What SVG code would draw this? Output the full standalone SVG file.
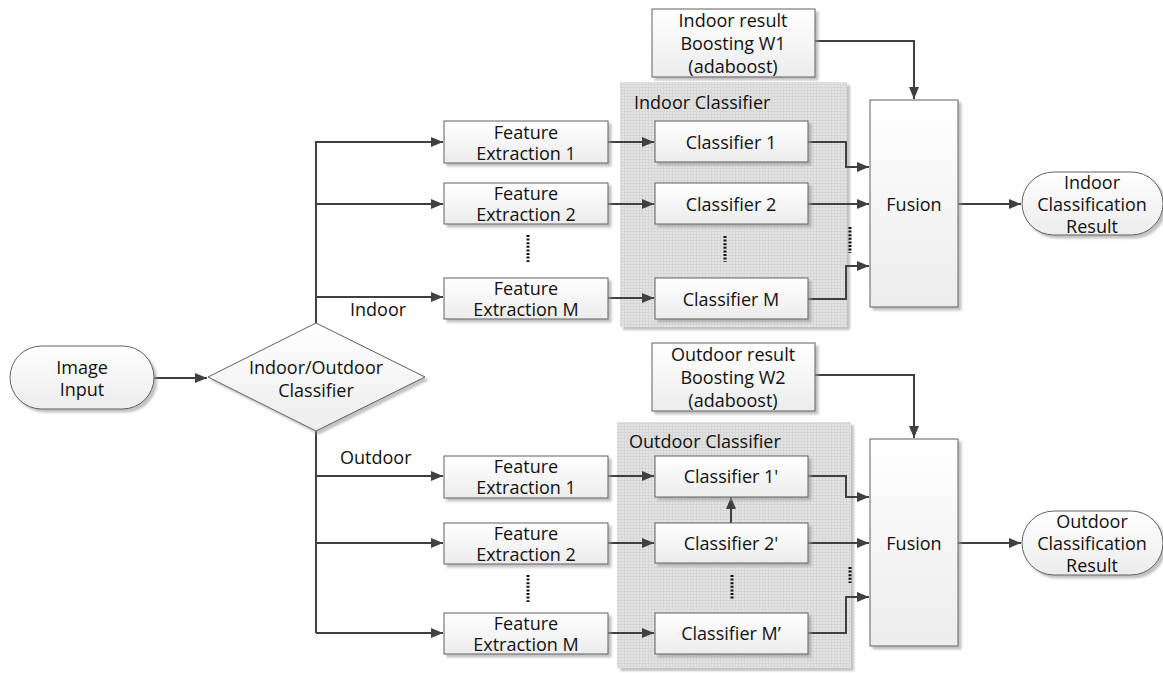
<svg xmlns="http://www.w3.org/2000/svg" width="1163" height="673" viewBox="0 0 1163 673">
<defs>
<linearGradient id="g" x1="0" y1="0" x2="0" y2="1">
<stop offset="0" stop-color="#ffffff"/>
<stop offset="1" stop-color="#ececec"/>
</linearGradient>
<pattern id="grid" width="3" height="3" patternUnits="userSpaceOnUse">
<rect width="3" height="3" fill="#e4e4e4"/>
<path d="M0 0.5H3M0.5 0V3" stroke="#d6d6d6" stroke-width="1"/>
</pattern>
<filter id="sh" x="-10%" y="-10%" width="130%" height="130%">
<feDropShadow dx="3" dy="3" stdDeviation="0.8" flood-color="#9a9a9a" flood-opacity="0.6"/>
</filter>
<marker id="ah" viewBox="0 0 12 10" refX="12" refY="5" markerWidth="12" markerHeight="10" markerUnits="userSpaceOnUse" orient="auto">
<path d="M0 0L12 5L0 10Z" fill="#404040"/>
</marker>
</defs>
<style>
.box{fill:url(#g);stroke:#606060;stroke-width:1;filter:url(#sh)}
.grp{fill:url(#grid);filter:url(#sh)}
.t{font-family:"Open Sans","Noto Sans",sans-serif;font-size:18px;fill:#111;text-anchor:middle;dominant-baseline:central}
.tl{font-family:"Open Sans","Noto Sans",sans-serif;font-size:18px;fill:#111;dominant-baseline:central}
.c{fill:none;stroke:#404040;stroke-width:2}
.a{marker-end:url(#ah)}
.dot{fill:none;stroke:#111;stroke-width:3;stroke-dasharray:2 1.6}
</style>
<rect width="1163" height="673" fill="#ffffff"/>

<g id="indoor-classifier-group">
<rect class="grp" x="620" y="82" width="227" height="245"/>
<text class="tl" x="634" y="102">Indoor Classifier</text>
</g>
<g id="outdoor-classifier-group">
<rect class="grp" x="617" y="422" width="234" height="246"/>
<text class="tl" x="629" y="441">Outdoor Classifier</text>
</g>

<g id="connectors">
<path class="c a" d="M154 378H207"/>
<path class="c" d="M316 323V141"/>
<path class="c a" d="M316 142H443"/>
<path class="c a" d="M316 204H443"/>
<path class="c a" d="M316 297H443"/>
<path class="c" d="M316 431V633"/>
<path class="c a" d="M316 476H443"/>
<path class="c a" d="M316 543H443"/>
<path class="c a" d="M316 633H443"/>
<path class="c a" d="M608 142H654"/>
<path class="c a" d="M608 204H654"/>
<path class="c a" d="M608 298H654"/>
<path class="c a" d="M608 476H654"/>
<path class="c a" d="M608 543H654"/>
<path class="c a" d="M608 633H654"/>
<path class="c a" d="M808 142H846V167H869"/>
<path class="c a" d="M808 204H869"/>
<path class="c a" d="M808 299H846V266H869"/>
<path class="c a" d="M808 476H846V497H869"/>
<path class="c a" d="M808 543H869"/>
<path class="c a" d="M808 633H846V597H869"/>
<path class="c a" d="M731 523V497"/>
<path class="c a" d="M815 41H914V99"/>
<path class="c a" d="M815 375H914V438"/>
<path class="c a" d="M958 204H1021"/>
<path class="c a" d="M958 543H1021"/>
<path class="dot" d="M528 235V262"/>
<path class="dot" d="M725 236V262"/>
<path class="dot" d="M850 227V253"/>
<path class="dot" d="M528 575V602"/>
<path class="dot" d="M732 575V600"/>
<path class="dot" d="M850 567V583"/>
<text class="tl" x="350" y="309">Indoor</text>
<text class="tl" x="340" y="457">Outdoor</text>
</g>

<g id="image-input">
<rect class="box" x="10" y="346" width="144" height="63" rx="31.5"/>
<text class="t" x="82" y="367">Image</text>
<text class="t" x="82" y="389">Input</text>
</g>
<g id="io-classifier">
<polygon class="box" points="208,377 316,323 425,377 316,431"/>
<text class="t" x="316" y="367">Indoor/Outdoor</text>
<text class="t" x="316" y="390">Classifier</text>
</g>

<g id="fe-in-1"><rect class="box" x="444" y="121" width="164" height="42"/><text class="t" x="526" y="132">Feature</text><text class="t" x="526" y="153">Extraction 1</text></g>
<g id="fe-in-2"><rect class="box" x="444" y="183" width="164" height="41"/><text class="t" x="526" y="193">Feature</text><text class="t" x="526" y="214">Extraction 2</text></g>
<g id="fe-in-m"><rect class="box" x="444" y="278" width="164" height="41"/><text class="t" x="526" y="288">Feature</text><text class="t" x="526" y="309">Extraction M</text></g>

<g id="cl-in-1"><rect class="box" x="655" y="121" width="153" height="41"/><text class="t" x="731" y="142">Classifier 1</text></g>
<g id="cl-in-2"><rect class="box" x="655" y="183" width="153" height="41"/><text class="t" x="731" y="204">Classifier 2</text></g>
<g id="cl-in-m"><rect class="box" x="655" y="278" width="153" height="41"/><text class="t" x="731" y="299">Classifier M</text></g>

<g id="indoor-boost"><rect class="box" x="652" y="9" width="163" height="68"/><text class="t" x="733" y="20">Indoor result</text><text class="t" x="733" y="43">Boosting W1</text><text class="t" x="733" y="66">(adaboost)</text></g>
<g id="fusion-in"><rect class="box" x="870" y="100" width="88" height="207"/><text class="t" x="914" y="204">Fusion</text></g>
<g id="indoor-result"><rect class="box" x="1022" y="172" width="141" height="63" rx="31.5"/><text class="t" x="1092" y="182">Indoor</text><text class="t" x="1092" y="204">Classification</text><text class="t" x="1092" y="226">Result</text></g>

<g id="fe-out-1"><rect class="box" x="444" y="456" width="164" height="42"/><text class="t" x="526" y="466">Feature</text><text class="t" x="526" y="487">Extraction 1</text></g>
<g id="fe-out-2"><rect class="box" x="444" y="523" width="164" height="41"/><text class="t" x="526" y="533">Feature</text><text class="t" x="526" y="554">Extraction 2</text></g>
<g id="fe-out-m"><rect class="box" x="444" y="613" width="164" height="41"/><text class="t" x="526" y="623">Feature</text><text class="t" x="526" y="644">Extraction M</text></g>

<g id="cl-out-1"><rect class="box" x="655" y="456" width="153" height="41"/><text class="t" x="731" y="476">Classifier 1'</text></g>
<g id="cl-out-2"><rect class="box" x="655" y="523" width="153" height="40"/><text class="t" x="731" y="543">Classifier 2'</text></g>
<g id="cl-out-m"><rect class="box" x="655" y="613" width="153" height="41"/><text class="t" x="731" y="633">Classifier M’</text></g>

<g id="outdoor-boost"><rect class="box" x="652" y="343" width="163" height="68"/><text class="t" x="733" y="354">Outdoor result</text><text class="t" x="733" y="377">Boosting W2</text><text class="t" x="733" y="400">(adaboost)</text></g>
<g id="fusion-out"><rect class="box" x="870" y="439" width="88" height="207"/><text class="t" x="914" y="543">Fusion</text></g>
<g id="outdoor-result"><rect class="box" x="1022" y="511" width="141" height="64" rx="32"/><text class="t" x="1092" y="521">Outdoor</text><text class="t" x="1092" y="543">Classification</text><text class="t" x="1092" y="565">Result</text></g>
</svg>
